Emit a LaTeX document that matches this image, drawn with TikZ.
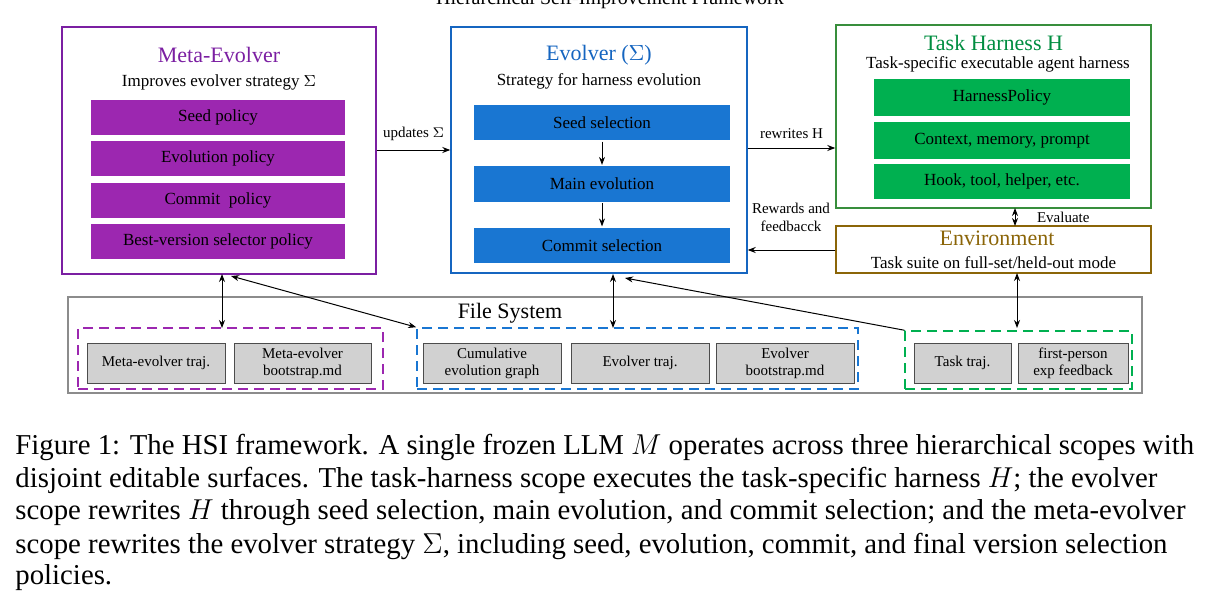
\documentclass[tikz,border=0pt]{standalone}
\usepackage{fontspec}
\setmainfont{Liberation Serif}
\usetikzlibrary{arrows.meta}
\definecolor{mpurple}{HTML}{7B1FA2}
\definecolor{mpurplef}{HTML}{9C27B0}
\definecolor{mblue}{HTML}{1565C0}
\definecolor{mbluef}{HTML}{1976D2}
\definecolor{mgreen}{HTML}{388E3C}
\definecolor{mgreenf}{HTML}{00B050}
\definecolor{mbrown}{HTML}{8B6508}
\begin{document}
\begin{tikzpicture}[x=0.5pt,y=-0.5pt,
  bar/.style={draw=white,line width=0.6pt,inner sep=0pt,font=\fontsize{8.5}{10}\selectfont},
  fsb/.style={draw=black!70,fill=black!18,inner sep=0pt,align=center,font=\fontsize{7.5}{8.5}\selectfont},
  dsh/.style={dashed,line width=0.8pt,dash pattern=on 5pt off 3pt},
  arr/.style={-{Stealth[length=4pt,width=3pt]},line width=0.5pt},
  darr/.style={{Stealth[length=4pt,width=3pt]}-{Stealth[length=4pt,width=3pt]},line width=0.5pt},
  lbl/.style={font=\fontsize{7.5}{9}\selectfont,align=center}]
\useasboundingbox (0,0) rectangle (1219,610);
\node[font=\fontsize{10}{12}\selectfont] (title) at (610,0) {Hierarchical Self-Improvement Framework};
% Meta-Evolver
\node[draw=mpurple,line width=0.7pt,minimum width=157pt,minimum height=123.5pt,inner sep=0pt] (meta) at (219,150.5) {};
\node[text=mpurple,font=\fontsize{11}{13}\selectfont] (mt) at (219,55) {Meta-Evolver};
\node[font=\fontsize{8.5}{10}\selectfont] (ms) at (219,82) {Improves evolver strategy $\Sigma$};
\node[bar,fill=mpurplef,minimum width=128pt,minimum height=18.5pt] (m1) at (218,117.5) {Seed policy};
\node[bar,fill=mpurplef,minimum width=128pt,minimum height=18.5pt] (m2) at (218,158.5) {Evolution policy};
\node[bar,fill=mpurplef,minimum width=128pt,minimum height=18.5pt] (m3) at (218,200.5) {Commit\ \ policy};
\node[bar,fill=mpurplef,minimum width=128pt,minimum height=18.5pt] (m4) at (218,241.5) {Best-version selector policy};
% Evolver
\node[draw=mblue,line width=0.7pt,minimum width=148pt,minimum height=123pt,inner sep=0pt] (evo) at (599,150) {};
\node[text=mblue,font=\fontsize{11}{13}\selectfont] (et) at (599,55) {Evolver ($\Sigma$)};
\node[font=\fontsize{8.5}{10}\selectfont] (es) at (599,81) {Strategy for harness evolution};
\node[bar,fill=mbluef,minimum width=129pt,minimum height=18.5pt] (e1) at (602,122.5) {Seed selection};
\node[bar,fill=mbluef,minimum width=129pt,minimum height=18.5pt] (e2) at (602,184) {Main evolution};
\node[bar,fill=mbluef,minimum width=129pt,minimum height=18.5pt] (e3) at (602,245.5) {Commit selection};
\draw[arr] (e1) -- (e2);
\draw[arr] (e2) -- (e3);
% Task harness
\node[draw=mgreen,line width=0.7pt,minimum width=157.5pt,minimum height=91.5pt,inner sep=0pt] (th) at (993.5,116.5) {};
\node[text=mgreenf!80!black,font=\fontsize{11}{13}\selectfont] (tt) at (993.5,43) {Task Harness H};
\node[font=\fontsize{8.5}{10}\selectfont] (ts) at (998,64) {Task-specific executable agent harness};
\node[bar,fill=mgreenf,minimum width=129pt,minimum height=19.5pt] (t1) at (1002,97.5) {HarnessPolicy};
\node[bar,fill=mgreenf,minimum width=129pt,minimum height=19.5pt] (t2) at (1002,140.5) {Context, memory, prompt};
\node[bar,fill=mgreenf,minimum width=129pt,minimum height=18.5pt] (t3) at (1002,181.5) {Hook, tool, helper, etc.};
% Environment
\node[draw=mbrown,line width=0.7pt,minimum width=157.5pt,minimum height=23.5pt,inner sep=0pt] (env) at (993.5,249.5) {};
\node[text=mbrown,font=\fontsize{11}{13}\selectfont] (ent) at (997,238) {Environment};
\node[font=\fontsize{8.5}{10}\selectfont] (ens) at (993.5,263) {Task suite on full-set/held-out mode};
% top connectors
\draw[arr] (meta.east|-0,150) -- (evo.west|-0,150) node[lbl,midway,above=1pt] {updates $\Sigma$};
\draw[arr] (evo.east|-0,148) -- (th.west|-0,148) node[lbl,midway,above=1pt] {rewrites H};
\draw[arr] (env.west|-0,250) -- (evo.east|-0,250);
\node[lbl] (rw) at (791,217) {Rewards and\\feedbacck};
\draw[darr] (1015,208) -- (1015,226);
\node[lbl,anchor=west] (ev) at (1030,217) {Evaluate};
% File system
\node[draw=black!45,line width=0.6pt,minimum width=537pt,minimum height=48pt,inner sep=0pt] (fs) at (605,345) {};
\node[font=\fontsize{11}{13}\selectfont] (fst) at (510,313) {File System};
\node[draw=mpurplef,dsh,minimum width=152.5pt,minimum height=30.5pt,inner sep=0pt] (dp) at (230.5,358.5) {};
\node[draw=mbluef,dsh,minimum width=220.5pt,minimum height=30.5pt,inner sep=0pt] (db) at (637.5,358.5) {};
\node[draw=mgreenf,dsh,minimum width=113.5pt,minimum height=29pt,inner sep=0pt] (dg) at (1018.5,360) {};
\node[fsb,minimum width=69pt,minimum height=20pt] (f1) at (156,363) {Meta-evolver traj.};
\node[fsb,minimum width=68.5pt,minimum height=20pt] (f2) at (302.5,363) {Meta-evolver\\bootstrap.md};
\node[fsb,minimum width=69pt,minimum height=20pt] (f3) at (492,363) {Cumulative\\evolution graph};
\node[fsb,minimum width=69pt,minimum height=20pt] (f4) at (640,363) {Evolver traj.};
\node[fsb,minimum width=69pt,minimum height=20pt] (f5) at (785,363) {Evolver\\bootstrap.md};
\node[fsb,minimum width=48.5pt,minimum height=20pt] (f6) at (962.5,363) {Task traj.};
\node[fsb,minimum width=55pt,minimum height=20pt] (f7) at (1073,363) {first-person\\exp feedback};
% vertical connectors
\draw[darr] (222,274) -- (222,328);
\draw[darr] (231,276) -- (db.north west);
\draw[darr] (613,274) -- (613,328);
\draw[arr] (dg.north west) -- (625,278);
\draw[darr] (1017,273) -- (1017,328);
% caption
\begin{scope}[every node/.style={anchor=west,inner sep=0pt,font=\fontsize{14.4}{16}\selectfont}]
\node (c1) at (15,447) {Figure 1: The HSI framework. A single frozen LLM $M$ operates across three hierarchical scopes with};
\node (c2) at (15,480) {disjoint editable surfaces. The task-harness scope executes the task-specific harness $H$; the evolver};
\node (c3) at (15,513) {scope rewrites $H$ through seed selection, main evolution, and commit selection; and the meta-evolver};
\node (c4) at (15,546) {scope rewrites the evolver strategy $\Sigma$, including seed, evolution, commit, and final version selection};
\node (c5) at (15,578) {policies.};
\end{scope}
\end{tikzpicture}
\end{document}
